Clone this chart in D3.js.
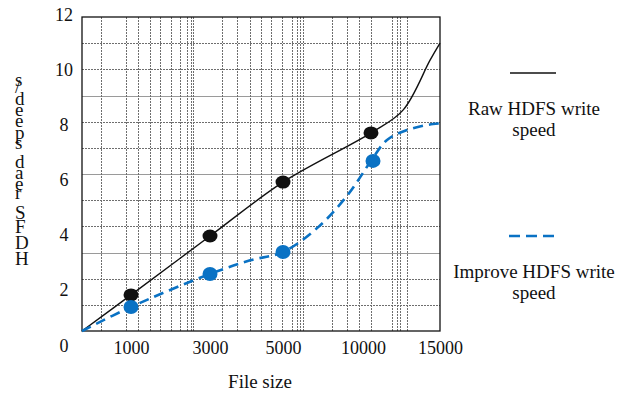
<!DOCTYPE html>
<html>
<head>
<meta charset="utf-8">
<script src="https://cdn.jsdelivr.net/npm/d3@7"></script>
<style>
  body { margin: 0; background: #fff; }
  svg { display: block; }
  text { font-family: "Liberation Serif", "Times New Roman", serif; fill: #111; }
</style>
</head>
<body>
<svg id="chart" width="634" height="397"></svg>
<script>
// x axis is not linear in the source, breakpoints below
const fileSizes = [0, 1000, 3000, 5000, 10000, 15000];
const xTicks = [1000, 3000, 5000, 10000, 15000];
const yTicks = [0, 2, 4, 6, 8, 10, 12];

// measured dots
const dotSizes = [1000, 3000, 5000, 10000];
const rawDots = [1.38, 3.63, 5.69, 7.57];
const improvedDots = [0.92, 2.18, 3.02, 6.5];

// points
const rawCurveX = [0, 1000, 3000, 5000, 10000, 12320, 14280, 15000];
const rawCurveY = [0, 1.38, 3.63, 5.69, 7.57, 8.44, 10.35, 11.0];
const improvedCurveX = [0, 1000, 3000, 4100, 5000, 7000, 8700, 10000, 11160, 12610, 14490, 15000];
const improvedCurveY = [0, 0.92, 2.18, 2.7, 3.02, 3.97, 5.22, 6.5, 7.3, 7.68, 7.91, 7.93];

const legendLines = [["Raw HDFS write", "speed"], ["Improve HDFS write", "speed"]];
const yTitle = "HDFS read speed/s";
const xTitle = "File size";

// vertical grid, as fraction of plot width
const gridFrac = [0.053, 0.123, 0.156, 0.19, 0.218, 0.249, 0.274, 0.293, 0.304, 0.31,
  0.391, 0.433, 0.469, 0.5, 0.528, 0.559, 0.587, 0.601, 0.609, 0.617,
  0.698, 0.74, 0.774, 0.807, 0.866, 0.88, 0.888, 0.908];

const plotLeft = 82, plotRight = 440, plotTop = 17, plotBottom = 331;
const black = "#111", blue = "#0a72c4", gridColor = "#6e6e6e";

const svg = d3.select("#chart");

const x = d3.scaleLinear().domain(fileSizes).range([82, 131, 210, 283, 371, 440]);
const y = d3.scaleLinear().domain([0, 12]).range([plotBottom, plotTop]);
// tick labels in the source drift away from the grid
const yLab = d3.scaleLinear().domain([0, 12]).range([351, 20]);
const gx = d3.scaleLinear().domain([0, 1]).range([plotLeft, plotRight]);

// grid
const grid = svg.append("g").attr("stroke", gridColor).attr("stroke-width", 1);
grid.selectAll(".h")
  .data(d3.range(1, 12))
  .join("line")
  .attr("class", "h")
  .attr("x1", plotLeft).attr("x2", plotRight)
  .attr("y1", d => Math.round(y(d)) + 0.5).attr("y2", d => Math.round(y(d)) + 0.5)
  .attr("stroke", d => d % 3 === 0 ? "#9a9a9a" : null)
  .attr("stroke-dasharray", d => d % 3 === 0 ? null : "2,1");
grid.selectAll(".v")
  .data(gridFrac)
  .join("line")
  .attr("class", "v")
  .attr("x1", d => Math.round(gx(d)) + 0.5).attr("x2", d => Math.round(gx(d)) + 0.5)
  .attr("y1", plotTop).attr("y2", plotBottom)
  .attr("stroke-dasharray", "2,1");

// frame
svg.append("rect")
  .attr("x", plotLeft).attr("y", plotTop)
  .attr("width", plotRight - plotLeft).attr("height", plotBottom - plotTop)
  .attr("fill", "none").attr("stroke", black).attr("stroke-width", 1.3);

// axes (labels only)
const yAxis = svg.append("g")
  .attr("transform", "translate(64,0)")
  .call(d3.axisLeft(yLab).tickValues(yTicks).tickSize(0).tickPadding(0));
yAxis.select(".domain").remove();
yAxis.attr("font-family", null).attr("font-size", null);
yAxis.selectAll("text")
  .attr("x", 0).attr("dy", 0)
  .attr("text-anchor", "middle")
  .style("font-size", "18px");

const xAxis = svg.append("g")
  .attr("transform", "translate(0,354)")
  .call(d3.axisBottom(x).tickValues(xTicks).tickSize(0).tickPadding(0).tickFormat(d3.format("d")));
xAxis.select(".domain").remove();
xAxis.attr("font-family", null).attr("font-size", null);
xAxis.selectAll("text")
  .attr("y", 0).attr("dy", 0)
  .attr("dx", d => d === 10000 ? -8 : 0)
  .style("font-size", "18px");

// lines
const line = d3.line().curve(d3.curveCatmullRom.alpha(0.5));

svg.append("path")
  .attr("d", line(rawCurveX.map((v, i) => [x(v), y(rawCurveY[i])])))
  .attr("fill", "none").attr("stroke", black).attr("stroke-width", 1.4);

svg.append("path")
  .attr("d", line(improvedCurveX.map((v, i) => [x(v), y(improvedCurveY[i])])))
  .attr("fill", "none").attr("stroke", blue).attr("stroke-width", 2.6)
  .attr("stroke-dasharray", "10,6");

// dots
svg.append("g").selectAll("ellipse")
  .data(dotSizes)
  .join("ellipse")
  .attr("cx", d => x(d)).attr("cy", (d, i) => y(rawDots[i]))
  .attr("rx", 7.5).attr("ry", 6.5)
  .attr("fill", black);

svg.append("g").selectAll("ellipse")
  .data(dotSizes)
  .join("ellipse")
  .attr("cx", d => x(d) + (d === 10000 ? 2 : 0)).attr("cy", (d, i) => y(improvedDots[i]))
  .attr("rx", 7.5).attr("ry", 7)
  .attr("fill", blue);

// titles
svg.append("text")
  .attr("x", 260).attr("y", 388)
  .attr("text-anchor", "middle")
  .style("font-size", "19px")
  .text(xTitle);

// glyphs stand upright but run bottom to top, as in the source
svg.append("text")
  .attr("transform", "translate(15,265) rotate(-90)")
  .attr("rotate", 90)
  .style("font-size", "19px")
  .style("letter-spacing", "2.5px")
  .text(yTitle);

// legend
const legend = svg.append("g");
legend.append("line")
  .attr("x1", 510).attr("x2", 556).attr("y1", 73).attr("y2", 73)
  .attr("stroke", black).attr("stroke-width", 1.4);
legend.append("line")
  .attr("x1", 509).attr("x2", 557).attr("y1", 236).attr("y2", 236)
  .attr("stroke", blue).attr("stroke-width", 2.6)
  .attr("stroke-dasharray", "11,6");

legendLines.forEach((rows, k) => {
  const t = legend.append("text")
    .attr("text-anchor", "middle")
    .style("font-size", "19px");
  rows.forEach((r, j) => {
    t.append("tspan")
      .attr("x", 534)
      .attr("y", (k === 0 ? 115 : 278) + j * 21)
      .text(r);
  });
});
</script>
</body>
</html>
